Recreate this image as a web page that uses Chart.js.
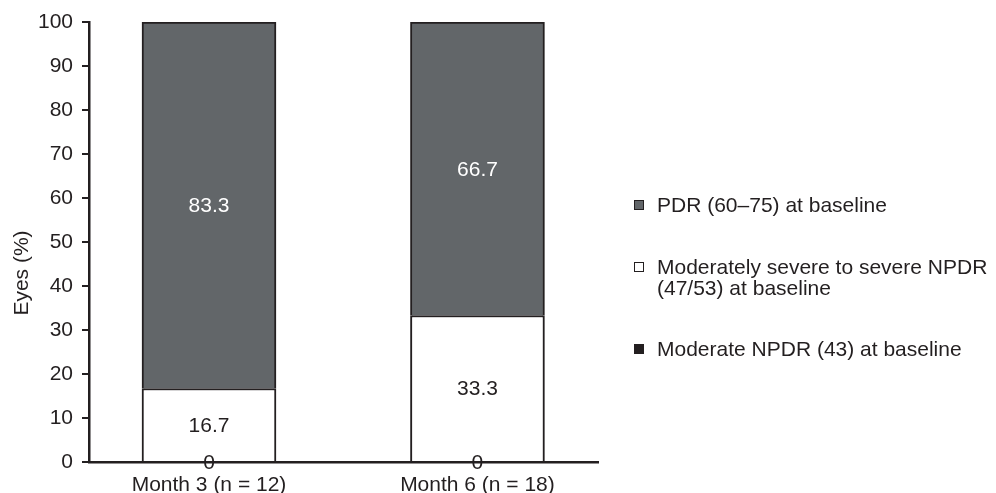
<!DOCTYPE html>
<html>
<head>
<meta charset="utf-8">
<script src="https://cdn.jsdelivr.net/npm/chart.js@4"></script>
<style>
  html, body { margin: 0; padding: 0; background: #fff; }
  #wrap { position: relative; width: 996px; height: 493px; }
  #legend { position: absolute; left: 634px; top: 0; font: 21px 'Liberation Sans', Arial, sans-serif; color: #231f20; }
  .item { position: absolute; left: 0; white-space: nowrap; line-height: 21px; }
  .box { position: absolute; left: 0; top: 6px; width: 8px; height: 8px; border: 1.5px solid #231f20; }
  .txt { position: absolute; left: 23px; top: 0; }
</style>
</head>
<body>
<div id="wrap">
  <canvas id="chart" width="996" height="493"></canvas>
  <div id="legend"></div>
</div>
<script>
const categories = ['Month 3 (n = 12)', 'Month 6 (n = 18)']
const seriesNames = ['Moderate NPDR (43) at baseline', 'Moderately severe to severe NPDR (47/53) at baseline', 'PDR (60–75) at baseline']
const legendLines = [['Moderate NPDR (43) at baseline'], ['Moderately severe to severe NPDR', '(47/53) at baseline'], ['PDR (60–75) at baseline']]
const moderateValues = [0, 0]
const severeValues = [16.7, 33.3]
const pdrValues = [83.3, 66.7]
const seriesColors = ['#231f20', '#ffffff', '#626669']
const labelColors = ['#231f20', '#231f20', '#ffffff']
const yTicks = [0, 10, 20, 30, 40, 50, 60, 70, 80, 90, 100]

const ink = '#231f20'
const font = { family: "'Liberation Sans', Arial, sans-serif", size: 21 }

const allValues = [moderateValues, severeValues, pdrValues]
const datasets = allValues.map((vals, i) => ({
  label: seriesNames[i],
  data: vals.map((v, j) => ({ x: j + 1, y: v })),
  backgroundColor: seriesColors[i],
  borderColor: ink,
  borderWidth: 2,
  borderSkipped: 'start',
  barThickness: 134
}))

// values written in the middle of each segment
const valueLabels = {
  id: 'valueLabels',
  afterDraw (chart) {
    const ctx = chart.ctx
    ctx.save()
    ctx.font = font.size + 'px ' + font.family
    ctx.textAlign = 'center'
    ctx.textBaseline = 'middle'
    chart.data.datasets.forEach((ds, i) => {
      chart.getDatasetMeta(i).data.forEach((el, j) => {
        ctx.fillStyle = labelColors[i]
        ctx.fillText(String(allValues[i][j]), el.x, (el.y + el.base) / 2 + 1)
      })
    })
    // y axis title
    ctx.fillStyle = ink
    ctx.translate(22, 273)
    ctx.rotate(-Math.PI / 2)
    ctx.fillText('Eyes (%)', 0, 0)
    ctx.restore()
  }
}

new Chart(document.querySelector('#chart'), {
  type: 'bar',
  data: { datasets: datasets },
  options: {
    responsive: false,
    animation: false,
    layout: { padding: { top: 22, right: 398, left: 0, bottom: 0 } },
    plugins: { legend: { display: false }, tooltip: { enabled: false } },
    scales: {
      x: {
        type: 'linear',
        stacked: true,
        offset: false,
        min: 0.553,
        max: 2.449,
        afterBuildTicks: (scale) => { scale.ticks = categories.map((c, i) => ({ value: i + 1 })) },
        afterFit: (scale) => { scale.height = 31 },
        grid: { display: false },
        border: { display: true, color: ink, width: 2.5 },
        ticks: {
          color: ink,
          font: font,
          padding: 3,
          maxRotation: 0,
          callback: (v) => categories[v - 1]
        }
      },
      y: {
        stacked: true,
        min: 0,
        max: 100,
        afterBuildTicks: (scale) => { scale.ticks = yTicks.map(v => ({ value: v })) },
        afterFit: (scale) => { scale.width = 89 },
        grid: { drawOnChartArea: false, tickLength: 7, color: ink, lineWidth: 2 },
        border: { display: true, color: ink, width: 2.5 },
        ticks: { color: ink, font: font, padding: 9 }
      }
    }
  },
  plugins: [valueLabels]
})

// legend, top item first (reverse of stacking order)
const legend = document.querySelector('#legend')
const rowTops = [194, 256, 338]
;[2, 1, 0].forEach((s, k) => {
  const item = document.createElement('div')
  item.className = 'item'
  item.style.top = rowTops[k] + 'px'
  const box = document.createElement('div')
  box.className = 'box'
  box.style.background = seriesColors[s]
  const txt = document.createElement('div')
  txt.className = 'txt'
  txt.innerHTML = legendLines[s].join('<br>')
  item.appendChild(box)
  item.appendChild(txt)
  legend.appendChild(item)
})
</script>
</body>
</html>
